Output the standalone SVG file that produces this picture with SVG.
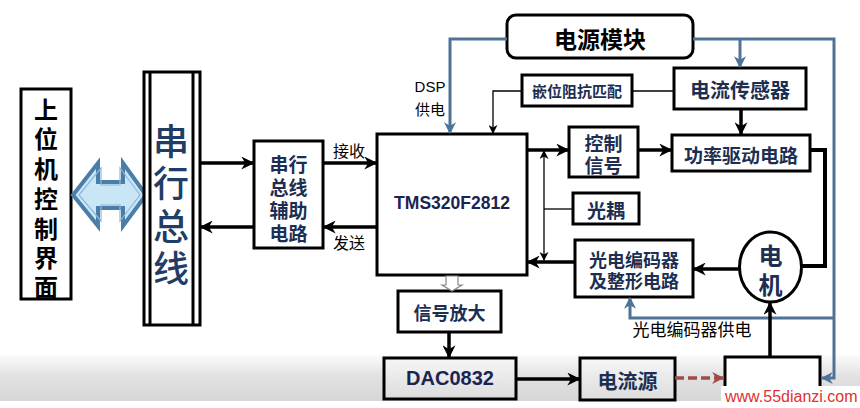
<svg xmlns="http://www.w3.org/2000/svg" width="860" height="408" viewBox="0 0 860 408">
<defs>
<linearGradient id="band" x1="0" y1="0" x2="0" y2="1">
<stop offset="0" stop-color="#fbfbfb"/><stop offset="0.45" stop-color="#e2e2e2"/><stop offset="1" stop-color="#d6d6d6"/>
</linearGradient>
<linearGradient id="boxg" x1="0" y1="0" x2="0" y2="1">
<stop offset="0" stop-color="#f6f6f6"/><stop offset="1" stop-color="#dcdcdc"/>
</linearGradient>
<marker id="ah" viewBox="0 0 10 10" markerWidth="13" markerHeight="13" markerUnits="userSpaceOnUse" refX="9" refY="5" orient="auto">
<path d="M0,0 L10,5 L0,10 L3,5 z" fill="#000"/>
</marker>
<marker id="at" viewBox="0 0 10 10" markerWidth="9" markerHeight="9" markerUnits="userSpaceOnUse" refX="9" refY="5" orient="auto">
<path d="M0,0 L10,5 L0,10 L3,5 z" fill="#000"/>
</marker>
<marker id="ab" viewBox="0 0 10 10" markerWidth="12" markerHeight="12" markerUnits="userSpaceOnUse" refX="9" refY="5" orient="auto">
<path d="M0,0 L10,5 L0,10 L3,5 z" fill="#4f7396"/>
</marker>
<marker id="ar" viewBox="0 0 10 10" markerWidth="12" markerHeight="12" markerUnits="userSpaceOnUse" refX="9" refY="5" orient="auto">
<path d="M0,0 L10,5 L0,10 L3,5 z" fill="#a04c46"/>
</marker>
<style>
.box{fill:#fff;stroke:#000;stroke-width:3}
.cn{font-family:"Noto Sans CJK SC","Noto Sans",sans-serif;font-weight:700;fill:#1c2f52;text-anchor:middle;dominant-baseline:central}
.blk{fill:#000}
.vb{font-weight:500;fill:#1f3d66}
.en{font-family:"Liberation Sans",Arial,sans-serif;font-weight:700;fill:#1c2350;text-anchor:middle;dominant-baseline:central}
.thick{fill:none;stroke:#000;stroke-width:3.5}
.thin{fill:none;stroke:#000;stroke-width:1.3}
.blue{fill:none;stroke:#4f7396;stroke-width:3}
.lbl{font-family:"Noto Sans CJK SC","Noto Sans",sans-serif;fill:#000;text-anchor:middle;dominant-baseline:central}
</style>
</defs>
<rect x="0" y="0" width="860" height="408" fill="#fff"/>
<rect x="0" y="355" width="860" height="46" fill="url(#band)"/>

<g id="host">
<rect class="box" x="21" y="89" width="50" height="210"/>
<text class="cn blk" font-size="24" x="46" y="108">上</text>
<text class="cn blk" font-size="24" x="46" y="137.5">位</text>
<text class="cn blk" font-size="24" x="46" y="167">机</text>
<text class="cn blk" font-size="24" x="46" y="197">控</text>
<text class="cn blk" font-size="24" x="46" y="227">制</text>
<text class="cn blk" font-size="24" x="46" y="256.5">界</text>
<text class="cn blk" font-size="24" x="46" y="285">面</text>
</g>

<g id="bidir">
<polygon points="73,195 98,163 98,182 123,182 123,163 146,195 123,226 123,208 98,208 98,226" fill="#c9e6f7" stroke="#4a7ea8" stroke-width="4" stroke-linejoin="miter"/>
<polygon points="79,195 101,168 101,185 120,185 120,168 140,195 120,221 120,205 101,205 101,221" fill="none" stroke="#8fb8d6" stroke-width="1.2"/>
</g>

<g id="bus">
<rect class="box" x="144" y="72" width="56" height="253"/>
<line x1="150" y1="72" x2="150" y2="325" stroke="#000" stroke-width="3"/>
<line x1="193" y1="72" x2="193" y2="325" stroke="#000" stroke-width="3"/>
<text class="cn vb" font-size="36" x="171" y="139">串</text>
<text class="cn vb" font-size="36" x="171" y="181">行</text>
<text class="cn vb" font-size="36" x="171" y="224">总</text>
<text class="cn vb" font-size="36" x="171" y="266">线</text>
</g>

<g id="busaux">
<rect class="box" x="254" y="141" width="69" height="107"/>
<text class="cn" font-size="19" x="288.5" y="163">串行</text>
<text class="cn" font-size="19" x="288.5" y="186">总线</text>
<text class="cn" font-size="19" x="288.5" y="209">辅助</text>
<text class="cn" font-size="19" x="288.5" y="232">电路</text>
</g>

<g id="dsp">
<rect class="box" x="377" y="134" width="150" height="141"/>
<text class="en" font-size="17.5" x="452" y="203">TMS320F2812</text>
</g>

<g id="power">
<rect x="507" y="15" width="186" height="43" rx="9" fill="#fff" stroke="#000" stroke-width="3"/>
<text class="cn blk" font-size="23" x="600" y="38">电源模块</text>
</g>

<g id="clamp">
<rect class="box" x="522" y="75" width="110" height="31"/>
<text class="cn" font-size="15" x="577" y="90.5">嵌位阻抗匹配</text>
</g>

<g id="sensor">
<rect class="box" x="674" y="68" width="132" height="41"/>
<text class="cn" font-size="20" x="740" y="89.5">电流传感器</text>
</g>

<g id="ctrl">
<rect class="box" x="569" y="127" width="69" height="50"/>
<text class="cn" font-size="19" x="603.5" y="142">控制</text>
<text class="cn" font-size="19" x="603.5" y="164">信号</text>
</g>

<g id="drive">
<rect class="box" x="672" y="135" width="138" height="36"/>
<text class="cn" font-size="19" x="741" y="154">功率驱动电路</text>
</g>

<g id="opto">
<rect class="box" x="573" y="193" width="66" height="31"/>
<text class="cn" font-size="19" x="606" y="209">光耦</text>
</g>

<g id="encoder">
<rect class="box" x="575" y="240" width="118" height="57"/>
<text class="cn" font-size="18" x="634" y="259">光电编码器</text>
<text class="cn" font-size="18" x="634" y="280">及整形电路</text>
</g>

<g id="motor">
<ellipse cx="770.5" cy="267" rx="31" ry="35" fill="#fff" stroke="#000" stroke-width="3"/>
<text class="cn" font-size="24" x="770.5" y="254">电</text>
<text class="cn" font-size="24" x="770.5" y="283">机</text>
</g>

<g id="amp">
<rect class="box" x="398" y="291" width="103" height="41"/>
<text class="cn" font-size="18" x="449.5" y="312">信号放大</text>
</g>

<g id="dac">
<rect x="384" y="358" width="132" height="41" fill="url(#boxg)" stroke="#000" stroke-width="3"/>
<text class="en" font-size="20" x="450" y="378">DAC0832</text>
</g>

<g id="isrc">
<rect x="580" y="358" width="95" height="42" fill="url(#boxg)" stroke="#000" stroke-width="3"/>
<text class="cn" font-size="20" x="627.5" y="380">电流源</text>
</g>

<g id="driver2">
<rect x="725" y="357" width="95" height="60" fill="#fff" stroke="#000" stroke-width="3"/>
<rect x="721" y="386" width="139" height="22" fill="#fff"/>
</g>

<g id="connectors">
<line class="thick" x1="200" y1="163" x2="253" y2="163" marker-end="url(#ah)"/>
<line class="thick" x1="254" y1="227" x2="201" y2="227" marker-end="url(#ah)"/>
<line class="thick" x1="323" y1="163" x2="376" y2="163" marker-end="url(#ah)"/>
<line class="thick" x1="377" y1="227" x2="324" y2="227" marker-end="url(#ah)"/>
<line class="thick" x1="527" y1="150" x2="568" y2="150" marker-end="url(#ah)"/>
<line class="thick" x1="638" y1="150" x2="671" y2="150" marker-end="url(#ah)"/>
<line class="thick" x1="741" y1="109" x2="741" y2="134" marker-end="url(#ah)"/>
<polyline class="thick" points="810,150 825,150 825,266 802,266" style="stroke-width:4"/>
<line class="thick" x1="739" y1="269" x2="694" y2="269" marker-end="url(#ah)"/>
<line class="thick" x1="575" y1="262" x2="528" y2="262" marker-end="url(#ah)"/>
<line class="thin" x1="544" y1="209" x2="573" y2="209"/>
<line class="thin" x1="544" y1="205" x2="544" y2="151" marker-end="url(#at)"/>
<line class="thin" x1="544" y1="205" x2="544" y2="260" marker-end="url(#at)"/>
<polyline class="thin" points="674,91 632,91"/>
<polyline class="thin" points="522,91 493,91 493,133" marker-end="url(#at)"/>
<polyline class="blue" points="507,39 450,39 450,133" marker-end="url(#ab)"/>
<polyline class="blue" points="693,39 834,39 834,378 822,378" marker-end="url(#ab)"/>
<line class="blue" x1="740" y1="39" x2="740" y2="67" marker-end="url(#ab)"/>
<polyline class="blue" points="834,318 630,318 630,298" marker-end="url(#ab)"/>
<polygon points="446,276 458,276 458,285 462,285 452,291 442,285 446,285" fill="#fff" stroke="#888" stroke-width="1.2"/>
<line class="thick" x1="449" y1="332" x2="449" y2="357" marker-end="url(#ah)"/>
<line class="thick" x1="516" y1="379" x2="579" y2="379" marker-end="url(#ah)"/>
<line x1="675" y1="378" x2="723" y2="378" stroke="#a04c46" stroke-width="3.5" stroke-dasharray="9 4" marker-end="url(#ar)"/>
<line class="thick" x1="770" y1="357" x2="770" y2="303" marker-end="url(#ah)"/>
<text class="lbl" font-size="16" x="349" y="150">接收</text>
<text class="lbl" font-size="16" x="349" y="242">发送</text>
<text font-family="Liberation Sans,Arial,sans-serif" font-size="15" x="430" y="92" text-anchor="middle" fill="#000">DSP</text>
<text class="lbl" font-size="15" x="430" y="108">供电</text>
<text class="lbl" font-size="17" x="692" y="328">光电编码器供电</text>
</g>
<text font-family="Liberation Sans,Arial,sans-serif" font-size="16" x="725" y="402" fill="#e23030">www.55dianzi.com</text>
</svg>
